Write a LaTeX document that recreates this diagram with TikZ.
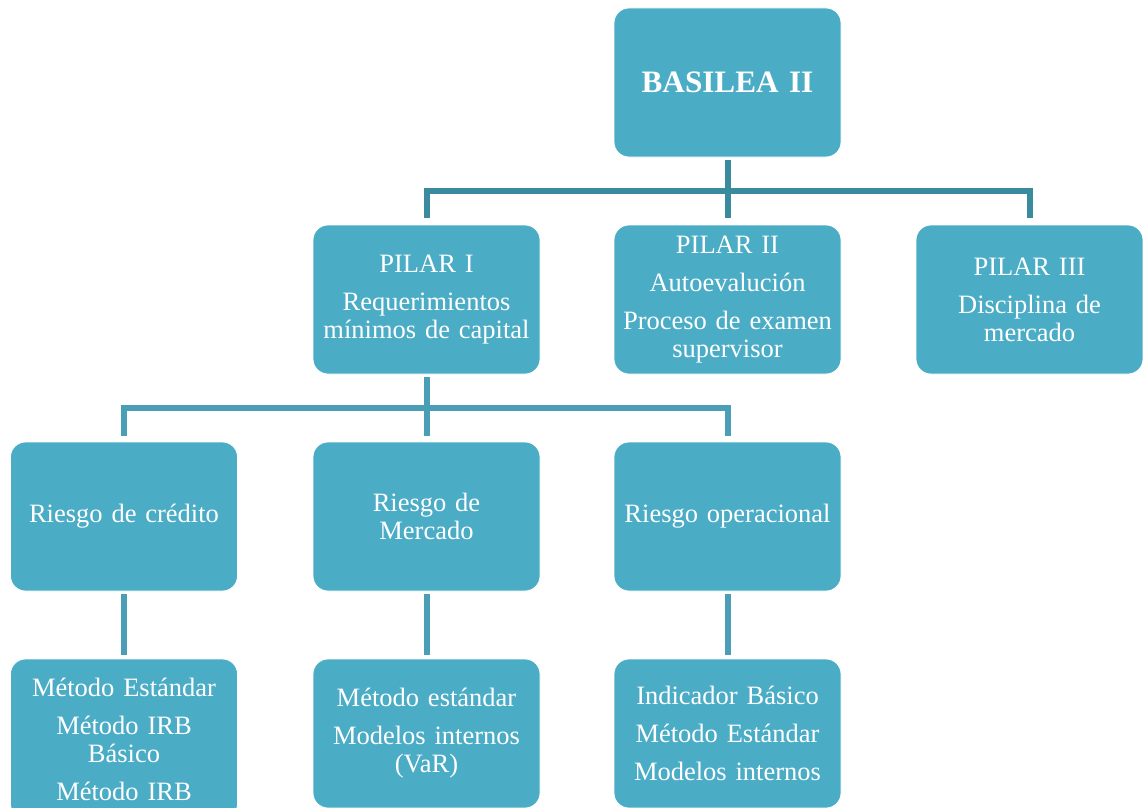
\documentclass[tikz,border=0pt]{standalone}
\usepackage{fontspec}
\setmainfont{Liberation Serif}
\usetikzlibrary{calc}

\definecolor{aqua}{HTML}{4BACC6}
\definecolor{aquafonce}{HTML}{3B8B9F}
\definecolor{aquamoyen}{HTML}{4A9FB7}

\newcommand\textocaja{\fontsize{26.5}{28}\selectfont\spaceskip=0.2em\relax}

\tikzset{
  caja/.style={rectangle, rounded corners=15pt, fill=aqua, draw=white, line width=0.8pt,
    minimum width=227pt, minimum height=149pt, inner sep=0pt, text=white,
    align=center, text width=224pt, font=\textocaja},
  conector/.style={line width=6pt},
}

\begin{document}
\begin{tikzpicture}[x=1pt, y=-1pt]
  \useasboundingbox (0,0) rectangle (1143,808);

  % Niveau 1
  \node[caja, font=\fontsize{31.2}{34}\selectfont\bfseries] (basilea) at (727.5,82.5) {BASILEA II};

  % Les piliers
  \node[caja] (pilarI) at (426.5,299.5) {PILAR I\\[10pt] Requerimientos\\ mínimos de capital};
  \node[caja] (pilarII) at (727.5,299.5) {PILAR II\\[10pt] Autoevalución\\[10pt] Proceso de examen\\ supervisor};
  \node[caja] (pilarIII) at (1029.5,299.5) {PILAR III\\[10pt] Disciplina de\\ mercado};

  % Les risques
  \node[caja] (credito) at (124,516.5) {Riesgo de crédito};
  \node[caja] (mercado) at (426.5,516.5) {Riesgo de\\ Mercado};
  \node[caja] (operacional) at (727.5,516.5) {Riesgo operacional};

  % Les méthodes
  \node[caja, minimum height=160pt] (metodosC) at (124,739) {Método Estándar\\[10pt] Método IRB\\ Básico\\[10pt] Método IRB};
  \node[caja] (metodosM) at (426.5,733.5) {Método estándar\\[10pt] Modelos internos\\ (VaR)};
  \node[caja] (metodosO) at (727.5,733.5) {Indicador Básico\\[10pt] Método Estándar\\[10pt] Modelos internos};

  % Les connecteurs
  \draw[conector, aquafonce] ([yshift=-3pt]basilea.south) -- ([yshift=7pt]pilarII.north);
  \draw[conector, aquafonce] ([yshift=7pt]pilarI.north) |- ($(basilea.south)!0.5!(pilarII.north)$) -| ([yshift=7pt]pilarIII.north);

  \draw[conector, aquamoyen] ([yshift=-3pt]pilarI.south) -- ([yshift=6pt]mercado.north);
  \draw[conector, aquamoyen] ([yshift=6pt]credito.north) |- ($(pilarI.south)!0.5!(mercado.north)$) -| ([yshift=6pt]operacional.north);

  \draw[conector, aquamoyen] ([yshift=-3pt]credito.south) -- ([yshift=4pt]credito.south |- metodosM.north);
  \draw[conector, aquamoyen] ([yshift=-3pt]mercado.south) -- ([yshift=4pt]metodosM.north);
  \draw[conector, aquamoyen] ([yshift=-3pt]operacional.south) -- ([yshift=4pt]metodosO.north);
\end{tikzpicture}
\end{document}
